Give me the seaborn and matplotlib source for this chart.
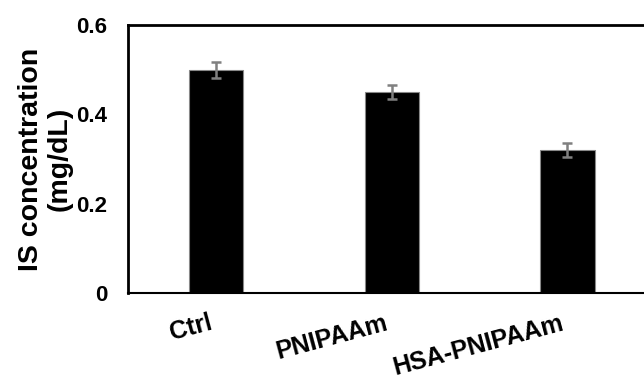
import pandas as pd
import seaborn as sns
import matplotlib.pyplot as plt
from matplotlib.transforms import ScaledTranslation

sns.set_style("white")
plt.rcParams['font.family'] = ['Liberation Sans', 'DejaVu Sans']
plt.rcParams['font.weight'] = 'bold'
plt.rcParams['text.color'] = 'black'
plt.rcParams['xtick.color'] = 'black'
plt.rcParams['ytick.color'] = 'black'
plt.rcParams['axes.labelcolor'] = 'black'

# data
groups = ["Ctrl", "PNIPAAm", "HSA-PNIPAAm"]
conc = [0.50, 0.45, 0.32]
err = [0.018, 0.016, 0.016]

df = pd.DataFrame({"group": groups, "conc": conc})

fig = plt.figure(figsize=(6.44, 3.79), dpi=100)
ax = fig.add_axes([0.199, 0.227, 0.805, 0.707])

sns.barplot(data=df, x="group", y="conc", color="black", width=0.31,
            edgecolor="#888888", linewidth=0.8, errorbar=None, ax=ax)
ax.errorbar(groups, conc, yerr=err, fmt="none", ecolor="#808080",
            elinewidth=1.8, capsize=3.5, capthick=1.8)

ax.set_ylim(0, 0.6)
ax.set_xlim(-0.5, 2.45)
ax.set_yticks([0, 0.2, 0.4, 0.6])
ax.set_yticklabels(["0", "0.2", "0.4", "0.6"], fontsize=16, fontweight="bold")
ax.set_xticks(range(len(groups)))
ax.set_xticklabels(groups, fontsize=18, fontweight="bold", rotation=15,
                   ha="right", rotation_mode="anchor")
ax.tick_params(axis="x", length=0, pad=13)
ax.tick_params(axis="y", direction="in", length=5, width=1.2, pad=15)

# nudge the rotated labels a little to the left
shift = ScaledTranslation(-0.08, 0, fig.dpi_scale_trans)
for lbl in ax.get_xticklabels():
    lbl.set_transform(lbl.get_transform() + shift)

ax.set_xlabel("")
ax.set_ylabel("IS concentration\n(mg/dL)", fontsize=20.5, fontweight="bold",
              labelpad=3, linespacing=1.1)

for side in ["left", "top", "bottom"]:
    ax.spines[side].set_color("black")
ax.spines["left"].set_linewidth(2)
ax.spines["top"].set_linewidth(2)
ax.spines["bottom"].set_linewidth(1.5)
ax.spines["right"].set_visible(False)

fig.savefig("out.png", dpi=100)
